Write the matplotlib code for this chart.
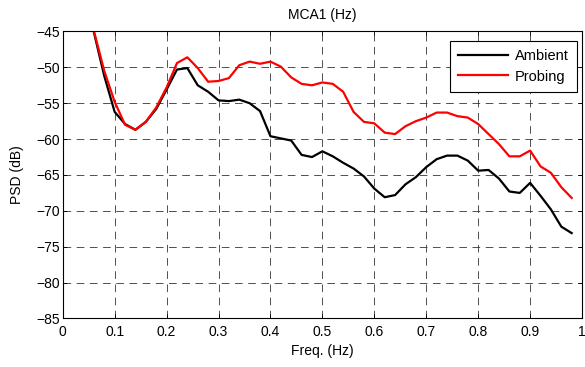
import numpy as np
import matplotlib
matplotlib.use('Agg')
import matplotlib.pyplot as plt

plt.rcParams['font.family'] = ['Liberation Sans', 'DejaVu Sans']
plt.rcParams['font.size'] = 10
plt.rcParams['lines.scale_dashes'] = False

# frequency grid (Hz)
freq = np.arange(0.06, 0.99, 0.02)

# PSD in dB
ambient = [-45.1, -51.2, -56.2, -57.9, -58.7, -57.6, -55.8, -53.1, -50.3, -50.1,
           -52.5, -53.4, -54.6, -54.7, -54.5, -55.0, -56.1, -59.6, -59.9, -60.2,
           -62.2, -62.5, -61.7, -62.4, -63.3, -64.1, -65.2, -66.9, -68.1, -67.8,
           -66.3, -65.3, -63.9, -62.8, -62.3, -62.3, -63.0, -64.4, -64.3, -65.5,
           -67.3, -67.5, -66.1, -67.9, -69.8, -72.2, -73.1]
probing = [-44.9, -50.5, -54.8, -58.0, -58.7, -57.6, -55.6, -52.8, -49.4, -48.6,
           -50.1, -52.0, -51.9, -51.5, -49.7, -49.2, -49.5, -49.2, -49.9, -51.4,
           -52.3, -52.5, -52.1, -52.3, -53.4, -56.2, -57.6, -57.8, -59.1, -59.3,
           -58.2, -57.5, -57.0, -56.3, -56.3, -56.8, -57.0, -57.9, -59.3, -60.7,
           -62.4, -62.4, -61.6, -63.8, -64.7, -66.7, -68.2]

xticks = np.arange(0, 1.01, 0.1)
xticklabels = ['0', '0.1', '0.2', '0.3', '0.4', '0.5', '0.6', '0.7', '0.8', '0.9', '1']
yticks = np.arange(-85, -44, 5)

fig = plt.figure(figsize=(5.85, 3.67), dpi=100)
ax = fig.add_axes([0.1072, 0.1322, 0.8878, 0.782])

ax.plot(freq, ambient, color='black', lw=1.6, label='Ambient')
ax.plot(freq, probing, color='#ff0000', lw=1.6, label='Probing')

ax.set_xlim(0, 1)
ax.set_ylim(-85, -45)
ax.set_xticks(xticks)
ax.set_xticklabels(xticklabels)
ax.set_yticks(yticks)

ax.grid(True, color='0.2', lw=0.6, ls=(0, (5.5, 4)))
ax.tick_params(direction='in', length=3, width=0.6, top=True, right=True, pad=2)
ax.tick_params(axis='x', pad=5)
for sp in ax.spines.values():
    sp.set_linewidth(0.8)

ax.set_title('MCA1 (Hz)', fontsize=10, pad=9)
ax.set_xlabel('Freq. (Hz)', labelpad=3)
ax.set_ylabel('PSD (dB)', labelpad=9)

leg = ax.legend(loc='upper right', bbox_to_anchor=(0.99, 0.967), borderaxespad=0,
                fancybox=False, edgecolor='black', framealpha=1,
                handlelength=3.4, handletextpad=0.5, fontsize=10.5,
                borderpad=0.55, labelspacing=0.45)
leg.get_frame().set_linewidth(0.8)

fig.savefig('out.png', dpi=100)
